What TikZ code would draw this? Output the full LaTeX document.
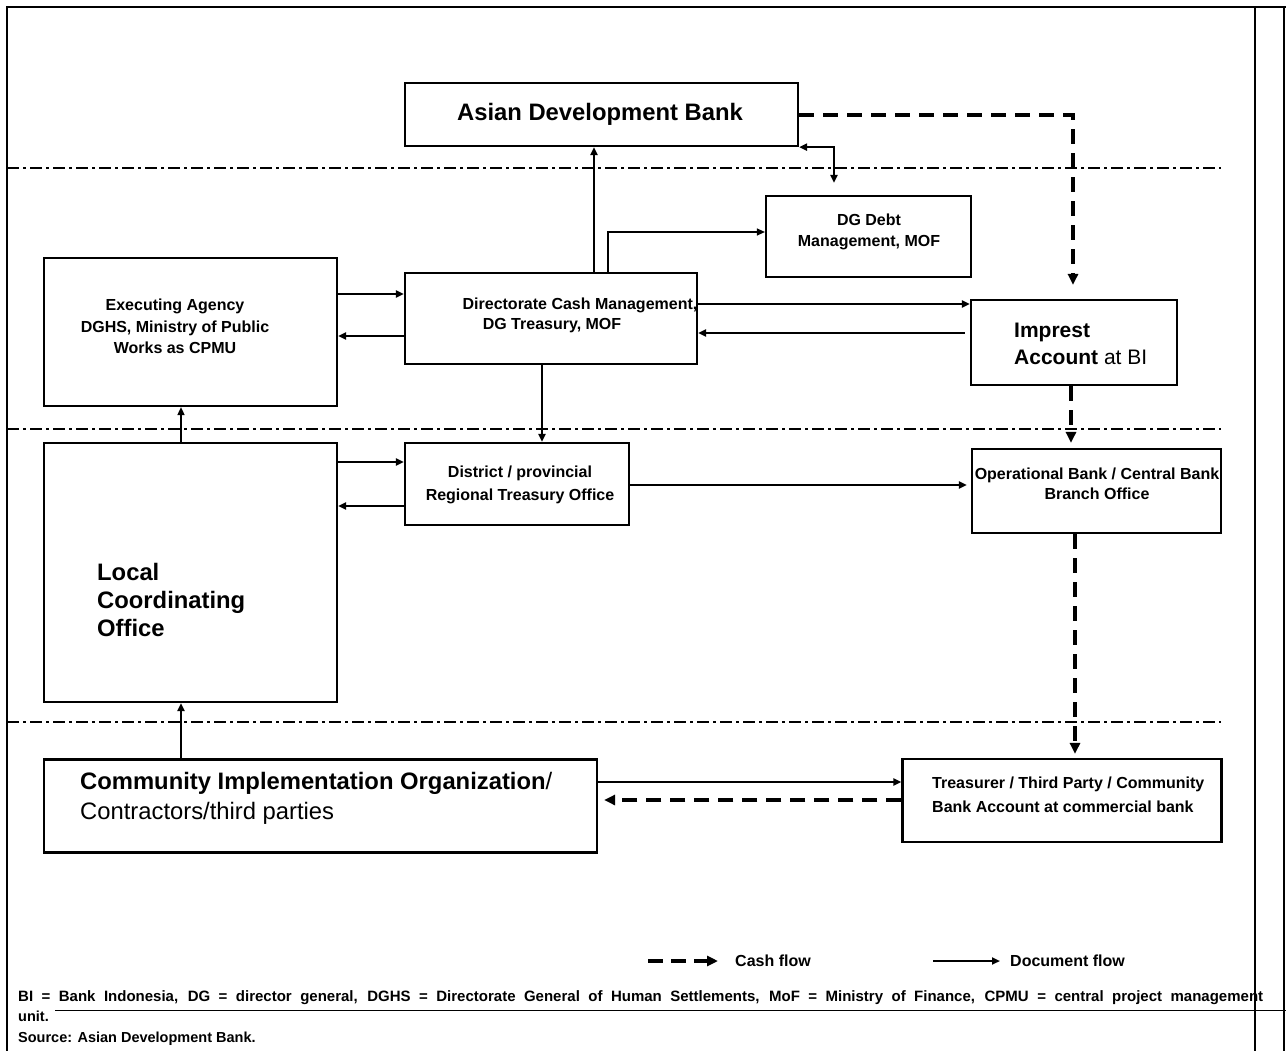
\documentclass[tikz,border=0pt]{standalone}
\usepackage{fontspec}
\setmainfont{Liberation Sans}
\usetikzlibrary{arrows.meta}
\newcommand\fsz[2]{\fontsize{#1}{#2}\selectfont}
\begin{document}
\begin{tikzpicture}[x=1pt,y=-1pt,
  box/.style={draw,line width=2.2pt,inner sep=0pt,rectangle},
  lbl/.style={inner sep=0pt,font=\fsz{16}{21}\bfseries},
  doc/.style={line width=2pt,-{Triangle[length=8pt,width=7pt]}},
  docthin/.style={line width=1.2pt,-{Triangle[length=8pt,width=7pt]}},
  cash/.style={line width=4pt,dash pattern=on 15pt off 9pt,-{Triangle[length=11pt,width=10pt]}},
  sep/.style={line width=1.8pt,dash pattern=on 12pt off 4pt on 3pt off 4pt},
  frame/.style={line width=2pt}]
\useasboundingbox (0,0) rectangle (1286,1051);
\fill[white] (0,0) rectangle (1286,1051);
% frame
\draw[frame] (7,1051) -- (7,7) -- (1286,7);
\draw[frame] (1255,7) -- (1255,1051);
\draw[frame] (1284,7) -- (1284,1051);
\draw[line width=1pt] (55,1010) -- (1286,1010);
% separators
\draw[sep] (7,168) -- (1221,168);
\draw[sep] (7,429) -- (1221,429);
\draw[sep] (7,722) -- (1221,722);
% boxes
\node[box,minimum width=393pt,minimum height=63pt] (ADB) at (601.5,114.5) {};
\node[box,minimum width=205pt,minimum height=81pt] (DGD) at (868.5,236.5) {};
\node[box,minimum width=293pt,minimum height=148pt] (EA) at (190.5,332) {};
\node[box,minimum width=292pt,minimum height=91pt] (DCM) at (551,318.5) {};
\node[box,minimum width=206pt,minimum height=85pt] (IMP) at (1074,342.5) {};
\node[box,minimum width=224pt,minimum height=82pt] (DIS) at (517,484) {};
\node[box,minimum width=249pt,minimum height=84pt] (OPB) at (1096.5,491) {};
\node[box,minimum width=293pt,minimum height=259pt] (LCO) at (190.5,572.5) {};
\node[box,minimum width=553pt,minimum height=93pt] (CIO) at (320.5,806) {};
\node[box,minimum width=319pt,minimum height=83pt] (TRE) at (1062,800.5) {};
% texts
\node[inner sep=0pt,font=\fsz{23.8}{28}\bfseries] (tADB) at (600,114) {Asian Development Bank};
\node[lbl,align=center] (tDGD) at (869,231.5) {DG Debt\\Management, MOF};
\node[lbl,align=center,font=\fsz{16}{21.5}\bfseries] (tEA) at (175,326.5) {Executing Agency\\DGHS, Ministry of Public\\Works as CPMU};
\node[lbl] (tDCM1) at (580,305) {Directorate Cash Management,};
\node[lbl] (tDCM2) at (552,326) {DG Treasury, MOF};
\node[inner sep=0pt,anchor=west,align=left,font=\fsz{21}{27}] (tIMP) at (1014,343.5) {\textbf{Imprest}\\\textbf{Account} at BI};
\node[lbl,align=center,font=\fsz{16}{23}\bfseries] (tDIS) at (520,484.5) {District / provincial\\Regional Treasury Office};
\node[lbl,align=center,font=\fsz{16}{20.5}\bfseries] (tOPB) at (1097,484) {Operational Bank / Central Bank\\Branch Office};
\node[inner sep=0pt,anchor=west,align=left,font=\fsz{23.8}{28}\bfseries] (tLCO) at (97,600) {Local\\Coordinating\\Office};
\node[inner sep=0pt,anchor=west,align=left,font=\fsz{23.8}{30}] (tCIO) at (80,798) {\textbf{Community Implementation Organization}/\\Contractors/third parties};
\node[lbl,anchor=west,align=left,font=\fsz{16}{24}\bfseries] (tTRE) at (932,795) {Treasurer / Third Party / Community\\Bank Account at commercial bank};
% document flows
\draw[doc] (594,0 |- DCM.north) -- (594,0 |- ADB.south);
\draw[doc,{Triangle[length=8pt,width=7pt]}-{Triangle[length=8pt,width=7pt]},shorten >=12pt] (ADB.south east) -| (834,0 |- DGD.north);
\draw[docthin] (608,0 |- DCM.north) |- (DGD.west |- 0,232);
\draw[doc] (EA.east |- 0,294) -- (DCM.west |- 0,294);
\draw[doc] (DCM.west |- 0,336) -- (EA.east |- 0,336);
\draw[doc] (DCM.east |- 0,304) -- (IMP.west |- 0,304);
\draw[doc,shorten <=5pt] (IMP.west |- 0,333) -- (DCM.east |- 0,333);
\draw[doc] (542,0 |- DCM.south) -- (542,0 |- DIS.north);
\draw[docthin,line width=1.6pt] (181,0 |- LCO.north) -- (181,0 |- EA.south);
\draw[doc] (LCO.east |- 0,462) -- (DIS.west |- 0,462);
\draw[doc] (DIS.west |- 0,506) -- (LCO.east |- 0,506);
\draw[doc,shorten >=4pt] (DIS.east |- 0,485) -- (OPB.west |- 0,485);
\draw[doc] (181,0 |- CIO.north) -- (181,0 |- LCO.south);
\draw[doc] (CIO.east |- 0,782) -- (TRE.west |- 0,782);
% cash flows
\draw[cash,shorten >=14pt] (ADB.east |- 0,115) -| (1073,0 |- IMP.north);
\draw[cash,shorten >=5pt] (1071,0 |- IMP.south) -- (1071,0 |- OPB.north);
\draw[cash,shorten >=4pt] (1075,0 |- OPB.south) -- (1075,0 |- TRE.north);
\draw[cash,shorten >=6pt] (TRE.west |- 0,800) -- (CIO.east |- 0,800);
% legend
\coordinate (c1) at (648,961);
\coordinate (c2) at (718,961);
\coordinate (d1) at (933,961);
\coordinate (d2) at (1000,961);
\draw[line width=4pt,dash pattern=on 15pt off 8pt,-{Triangle[length=11pt,width=10pt]}] (c1) -- (c2);
\draw[doc] (d1) -- (d2);
\node[lbl,anchor=west] (lc) at (735,961) {Cash flow};
\node[lbl,anchor=west] (ld) at (1010,961) {Document flow};
% footer
\node[inner sep=0pt,anchor=west,font=\fsz{15}{16}\bfseries] (f1) at (18,998) {\makebox[1245pt][s]{BI = Bank Indonesia, DG = director general, DGHS = Directorate General of Human Settlements, MoF = Ministry of Finance, CPMU = central project management}};
\node[inner sep=1pt,fill=white,anchor=west,font=\fsz{14.5}{16}\bfseries] (f2) at (17,1016) {unit.};
\node[inner sep=0pt,anchor=west,font=\fsz{14.5}{16}\bfseries] (f3) at (18,1039) {Source: Asian Development Bank.};
\end{tikzpicture}
\end{document}
